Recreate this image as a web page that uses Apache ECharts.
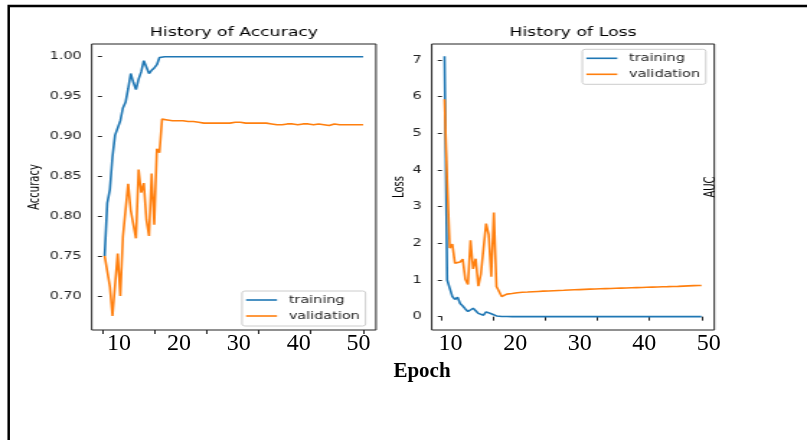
<!DOCTYPE html>
<html>
<head>
<meta charset="utf-8">
<script src="https://cdn.jsdelivr.net/npm/echarts@6/dist/echarts.min.js"></script>
<style>
  html, body { margin: 0; padding: 0; background: #fff; }
  #wrap { position: relative; width: 807px; height: 440px; overflow: hidden; background: #fff; }
  /* the source figure is a matplotlib plot stretched sideways; draw it narrow and stretch it */
  #plots { position: absolute; left: 0; top: 0; width: 560px; height: 440px;
           transform: scaleX(1.441071); transform-origin: 0 0; }
  #overlay { position: absolute; left: 0; top: 0; width: 807px; height: 440px; }
</style>
</head>
<body>
<div id="wrap"><div id="plots"></div><div id="overlay"></div></div>
<script>
// Epochs 1..100, one value per epoch.
const EPOCHS = Array.from({ length: 100 }, (_, i) => i + 1);

const ACC_TRAIN = [
  0.751, 0.817, 0.834, 0.875, 0.902, 0.903, 0.920, 0.936, 0.943, 0.960,
  0.979, 0.968, 0.959, 0.972, 0.981, 0.995, 0.993, 0.979, 0.983, 0.986,
  0.990, 0.999, 1.000, 1.000, 1.000, 1.000, 1.000, 1.000, 1.000, 1.000,
  1.000, 1.000, 1.000, 1.000, 1.000, 1.000, 1.000, 1.000, 1.000, 1.000,
  1.000, 1.000, 1.000, 1.000, 1.000, 1.000, 1.000, 1.000, 1.000, 1.000,
  1.000, 1.000, 1.000, 1.000, 1.000, 1.000, 1.000, 1.000, 1.000, 1.000,
  1.000, 1.000, 1.000, 1.000, 1.000, 1.000, 1.000, 1.000, 1.000, 1.000,
  1.000, 1.000, 1.000, 1.000, 1.000, 1.000, 1.000, 1.000, 1.000, 1.000,
  1.000, 1.000, 1.000, 1.000, 1.000, 1.000, 1.000, 1.000, 1.000, 1.000,
  1.000, 1.000, 1.000, 1.000, 1.000, 1.000, 1.000, 1.000, 1.000, 1.000,
];
const ACC_VAL = [
  0.751, 0.750, 0.713, 0.676, 0.715, 0.754, 0.701, 0.775, 0.808, 0.841,
  0.808, 0.807, 0.773, 0.859, 0.830, 0.842, 0.796, 0.776, 0.854, 0.790,
  0.885, 0.880, 0.922, 0.921, 0.921, 0.921, 0.920, 0.921, 0.920, 0.920,
  0.920, 0.920, 0.919, 0.920, 0.919, 0.919, 0.918, 0.918, 0.917, 0.917,
  0.917, 0.917, 0.917, 0.918, 0.917, 0.917, 0.917, 0.918, 0.917, 0.917,
  0.918, 0.918, 0.918, 0.918, 0.917, 0.917, 0.917, 0.917, 0.917, 0.917,
  0.917, 0.917, 0.917, 0.917, 0.916, 0.916, 0.915, 0.916, 0.915, 0.915,
  0.916, 0.916, 0.916, 0.915, 0.915, 0.916, 0.916, 0.916, 0.916, 0.916,
  0.915, 0.916, 0.916, 0.916, 0.915, 0.914, 0.914, 0.915, 0.916, 0.915,
  0.915, 0.915, 0.915, 0.915, 0.915, 0.916, 0.915, 0.915, 0.915, 0.915,
];
const LOSS_TRAIN = [
  7.10, 1.00, 0.77, 0.55, 0.47, 0.53, 0.36, 0.29, 0.21, 0.14,
  0.18, 0.23, 0.16, 0.09, 0.05, 0.04, 0.13, 0.11, 0.08, 0.05,
  0.02, 0.008, 0.005, 0.004, 0.003, 0.003, 0.002, 0.002, 0.002, 0.002,
  0.001, 0.001, 0.001, 0.001, 0.001, 0.001, 0.001, 0.001, 0.001, 0.001,
  0.001, 0.001, 0.001, 0.001, 0.001, 0.001, 0.001, 0.001, 0.001, 0.001,
  0.001, 0.001, 0.001, 0.001, 0.001, 0.001, 0.001, 0.001, 0.001, 0.001,
  0.001, 0.001, 0.001, 0.001, 0.001, 0.001, 0.001, 0.001, 0.001, 0.001,
  0.001, 0.001, 0.001, 0.001, 0.001, 0.001, 0.001, 0.001, 0.001, 0.001,
  0.001, 0.001, 0.001, 0.001, 0.001, 0.001, 0.001, 0.001, 0.001, 0.001,
  0.001, 0.001, 0.001, 0.001, 0.001, 0.001, 0.001, 0.001, 0.001, 0.001,
];
const LOSS_VAL = [
  5.93, 3.70, 1.87, 1.98, 1.46, 1.41, 1.49, 1.57, 1.02, 0.88,
  2.08, 1.30, 1.58, 0.83, 1.16, 1.85, 2.54, 2.24, 1.09, 2.84,
  0.82, 0.84, 0.55, 0.60, 0.615, 0.62, 0.63, 0.64, 0.65, 0.655,
  0.665, 0.668, 0.672, 0.676, 0.680, 0.684, 0.688, 0.692, 0.695, 0.698,
  0.701, 0.704, 0.707, 0.710, 0.713, 0.716, 0.719, 0.722, 0.726, 0.729,
  0.732, 0.735, 0.738, 0.741, 0.744, 0.747, 0.750, 0.752, 0.754, 0.757,
  0.759, 0.761, 0.764, 0.766, 0.768, 0.771, 0.773, 0.775, 0.778, 0.780,
  0.782, 0.785, 0.787, 0.789, 0.792, 0.794, 0.797, 0.799, 0.802, 0.804,
  0.806, 0.808, 0.810, 0.812, 0.815, 0.817, 0.818, 0.820, 0.822, 0.825,
  0.827, 0.830, 0.833, 0.836, 0.839, 0.842, 0.845, 0.847, 0.849, 0.850,
];

const EPOCH_TICKS = [0, 20, 40, 60, 80, 100];
const ACC_TICKS = [0.70, 0.75, 0.80, 0.85, 0.90, 0.95, 1.00];
const LOSS_TICKS = [0, 1, 2, 3, 4, 5, 6, 7];
const X_LABELS = [10, 20, 30, 40, 50];   // the pasted-on serif labels under the axes
const SERIES_NAMES = ["training", "validation"];

const BLUE = "#1f77b4";
const ORANGE = "#ff7f0e";
const INK = "#222";
const SANS = '"DejaVu Sans", sans-serif';
const SERIF = '"Liberation Serif", "Times New Roman", serif';

// horizontal page pixels -> units of the stretched plot canvas
const SX = 807 / 560;
const u = (px) => px / SX;

const pairs = (vals) => vals.map((v, i) => [EPOCHS[i], v]);

function epochAxis(gridIndex) {
  return {
    type: "value", gridIndex, min: -3.95, max: 104.95,
    axisLine: { show: false },
    axisLabel: { show: false },
    axisTick: { show: true, customValues: EPOCH_TICKS, length: 4, lineStyle: { color: INK, width: 1 } },
    splitLine: { show: false },
  };
}

function valueAxis(gridIndex, min, max, ticks, fmt, name, nameGap) {
  return {
    type: "value", gridIndex, min, max,
    name, nameLocation: "middle", nameGap,
    nameTextStyle: { fontFamily: SANS, fontSize: 10, color: "#000" },
    axisLine: { show: false },
    axisTick: { show: true, customValues: ticks, length: u(4.2), lineStyle: { color: INK, width: 1 } },
    axisLabel: { customValues: ticks, formatter: fmt, fontFamily: SANS, fontSize: 10, color: INK, margin: u(10) },
    splitLine: { show: false },
  };
}

function legend(leftPx, topPx) {
  return {
    orient: "vertical", left: u(leftPx), top: topPx,
    data: SERIES_NAMES,
    icon: "rect", itemWidth: u(31), itemHeight: 1.6, itemGap: 4,
    formatter: (n) => " " + n,
    textStyle: { fontFamily: SANS, fontSize: 10, color: INK, lineHeight: 12 },
    backgroundColor: "rgba(255,255,255,0.8)",
    borderColor: "#cccccc", borderWidth: 1, borderRadius: 2,
    padding: [3, 4, 4, u(4)],
    selectedMode: false,
  };
}

function line(name, data, color, gridIndex) {
  return {
    name, type: "line", data: pairs(data),
    xAxisIndex: gridIndex, yAxisIndex: gridIndex,
    symbol: "none", showSymbol: false,
    color, lineStyle: { color, width: 1.6 },
  };
}

const plots = echarts.init(document.getElementById("plots"), null, { renderer: "canvas" });
plots.setOption({
  animation: false,
  backgroundColor: "transparent",
  grid: [
    { left: u(91.7), top: 44, width: u(284.3), height: 286, show: true, borderColor: INK, borderWidth: 1 },
    { left: u(431.7), top: 44, width: u(282.6), height: 286, show: true, borderColor: INK, borderWidth: 1 },
  ],
  xAxis: [epochAxis(0), epochAxis(1)],
  yAxis: [
    valueAxis(0, 0.6584, 1.0159, ACC_TICKS, (v) => v.toFixed(2), "Accuracy", 34),
    valueAxis(1, -0.364, 7.436, LOSS_TICKS, (v) => String(Math.round(v)), "Loss", 17),
  ],
  legend: [legend(242, 291), legend(582.3, 49.3)],
  series: [
    line(SERIES_NAMES[0], ACC_TRAIN, BLUE, 0),
    line(SERIES_NAMES[1], ACC_VAL, ORANGE, 0),
    line(SERIES_NAMES[0], LOSS_TRAIN, BLUE, 1),
    line(SERIES_NAMES[1], LOSS_VAL, ORANGE, 1),
  ],
  graphic: [
    { type: "text", x: u(234), y: 27, style: { text: "History of Accuracy", font: `12px ${SANS}`, fill: "#000", align: "center", verticalAlign: "top" } },
    { type: "text", x: u(573), y: 27, style: { text: "History of Loss", font: `12px ${SANS}`, fill: "#000", align: "center", verticalAlign: "top" } },
    { type: "text", x: u(711), y: 187, rotation: Math.PI / 2, style: { text: "AUC", font: `10px ${SANS}`, fill: "#000", align: "center", verticalAlign: "middle" } },
  ],
});

// Overlay: the large serif epoch labels, the "Epoch" caption and the page frame,
// which in the source are not stretched with the plots.
function labelAxis(gridIndex, min, max) {
  return {
    type: "value", gridIndex, min, max,
    axisLine: { show: false }, axisTick: { show: false }, splitLine: { show: false },
    axisLabel: { customValues: X_LABELS, fontFamily: SERIF, fontSize: 24, color: "#000", margin: 2, lineHeight: 24 },
  };
}
function hiddenY(gridIndex) {
  return { type: "value", gridIndex, min: 0, max: 1, show: false };
}

const overlay = echarts.init(document.getElementById("overlay"), null, { renderer: "canvas" });
overlay.setOption({
  animation: false,
  backgroundColor: "transparent",
  grid: [
    { left: 91.7, top: 44, width: 284.3, height: 286 },
    { left: 431.7, top: 44, width: 282.6, height: 286 },
  ],
  xAxis: [labelAxis(0, 5.42, 52.92), labelAxis(1, 7.07, 50.85)],
  yAxis: [hiddenY(0), hiddenY(1)],
  series: [],
  graphic: [
    { type: "text", x: 422, y: 372, style: { text: "Epoch", font: `bold 21px ${SERIF}`, fill: "#000", align: "center", verticalAlign: "middle" } },
    { type: "rect", shape: { x: 8.7, y: 6, width: 900, height: 500 }, style: { fill: "none", stroke: "#000", lineWidth: 2.5 } },
  ],
});
</script>
</body>
</html>
